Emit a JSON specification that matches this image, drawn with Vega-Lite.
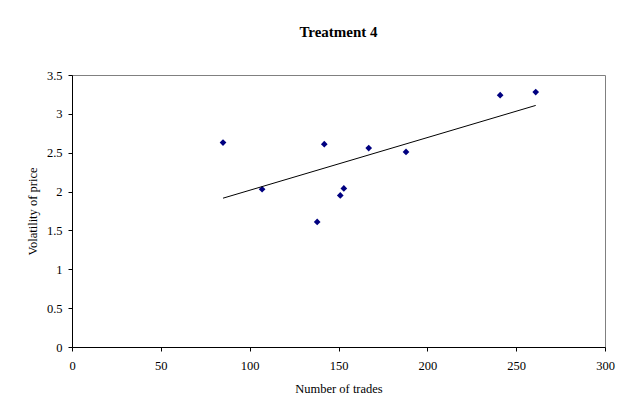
{
  "$schema": "https://vega.github.io/schema/vega-lite/v6.json",
  "autosize": "none",
  "width": 533,
  "height": 272,
  "padding": {"left": 72, "top": 75, "right": 21, "bottom": 62},
  "background": "white",
  "title": {"text": "Treatment 4", "font": "Liberation Serif", "fontSize": 15, "fontWeight": "bold", "color": "black", "offset": 29, "anchor": "middle"},
  "config": {
    "view": {"stroke": "#808080", "strokeWidth": 1},
    "axis": {
      "grid": false,
      "domainColor": "black",
      "tickColor": "black",
      "tickSize": 4,
      "labelFont": "Liberation Serif",
      "labelFontSize": 12.5,
      "labelColor": "black",
      "labelOverlap": false,
      "titleFont": "Liberation Serif",
      "titleFontSize": 12.5,
      "titleFontWeight": "normal",
      "titleColor": "black"
    }
  },
  "data": {"values": [
    {"trades": 85, "volatility": 2.63},
    {"trades": 107, "volatility": 2.03},
    {"trades": 138, "volatility": 1.61},
    {"trades": 142, "volatility": 2.61},
    {"trades": 151, "volatility": 1.95},
    {"trades": 153, "volatility": 2.04},
    {"trades": 167, "volatility": 2.56},
    {"trades": 188, "volatility": 2.51},
    {"trades": 241, "volatility": 3.24},
    {"trades": 261, "volatility": 3.28}
  ]},
  "encoding": {
    "x": {"field": "trades", "type": "quantitative", "scale": {"domain": [0, 300], "nice": false}, "axis": {"values": [0, 50, 100, 150, 200, 250, 300], "title": "Number of trades", "labelPadding": 8, "titlePadding": 11, "labelFlush": false}},
    "y": {"field": "volatility", "type": "quantitative", "scale": {"domain": [0, 3.5], "nice": false}, "axis": {"values": [0, 0.5, 1, 1.5, 2, 2.5, 3, 3.5], "tickCount": 8, "format": "~g", "title": "Volatility of price", "labelPadding": 6, "titlePadding": 7, "labelFlush": false}}
  },
  "layer": [
    {
      "mark": {"type": "point", "shape": "diamond", "filled": true, "color": "#000080", "opacity": 1, "size": 45}
    },
    {
      "transform": [{"regression": "volatility", "on": "trades"}],
      "mark": {"type": "line", "color": "black", "strokeWidth": 1}
    }
  ]
}
